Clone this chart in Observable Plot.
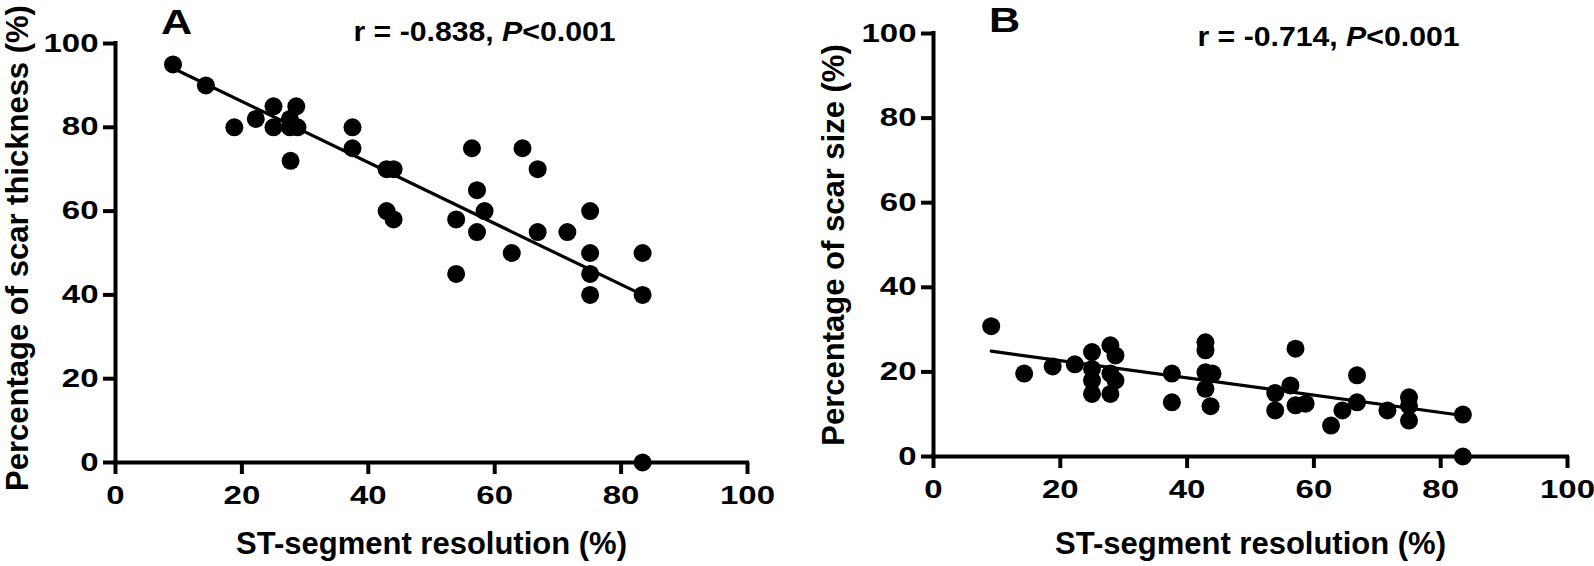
<!DOCTYPE html>
<html><head><meta charset="utf-8">
<script src="https://cdn.jsdelivr.net/npm/d3@7"></script>
<script src="https://cdn.jsdelivr.net/npm/@observablehq/plot@0.6"></script>
<style>
html,body{margin:0;padding:0;background:#fff;}
#wrap{display:flex;width:1594px;height:566px;overflow:hidden;}
#wrap svg{display:block;}
</style></head><body><div id="wrap"></div>
<script>
// ---- data ----
const xTicks = [0, 20, 40, 60, 80, 100];
const yTicks = [0, 20, 40, 60, 80, 100];
const xTitle = "ST-segment resolution (%)";

// Panel A: ST-segment resolution vs percentage of scar thickness
const stA = [9.1, 14.3, 18.8, 22.2, 25, 25, 28.6, 27.6, 27.6, 28.8, 27.7, 37.5, 37.5, 42.9, 44.0, 42.9, 44.0,
             56.4, 64.4, 66.8, 57.2, 58.4, 53.9, 57.2, 66.8, 71.5, 75.1, 62.7, 75.1, 83.4, 53.9, 75.1, 75.1, 83.4, 83.4];
const thickA = [95, 90, 80, 82, 85, 80, 85, 82, 80, 80, 72, 80, 75, 70, 70, 60, 58,
                75, 75, 70, 65, 60, 58, 55, 55, 55, 60, 50, 50, 50, 45, 45, 40, 40, 0];
const fitXA = [9.1, 83.4];
const fitYA = [94.1, 40.0];

// Panel B: ST-segment resolution vs percentage of scar size
const stB = [9.1, 14.3, 18.8, 22.3, 25, 25, 25, 25, 27.9, 28.7, 27.9, 28.7, 27.9, 37.6, 37.6,
             42.9, 42.9, 42.9, 44.0, 42.9, 43.7, 53.9, 53.9, 56.3, 57.1, 57.1, 58.7, 62.7, 64.5,
             66.8, 66.8, 71.6, 75.0, 75.0, 75.0, 83.5, 83.5];
const sizeB = [30.8, 19.6, 21.3, 21.8, 24.7, 20.7, 18.0, 14.8, 26.3, 23.9, 19.6, 18.0, 14.8, 19.6, 12.8,
               27.0, 25.1, 19.9, 19.6, 16.0, 11.9, 15.0, 10.9, 16.8, 25.5, 12.1, 12.5, 7.3, 10.9,
               19.2, 12.8, 10.9, 14.0, 12.0, 8.5, 9.9, 0];
const fitXB = [9.1, 83.5];
const fitYB = [24.9, 9.7];

const letters = ["A", "B"];
const stats = ["r = -0.838, P<0.001", "r = -0.714, P<0.001"];
const yTitles = ["Percentage of scar thickness (%)", "Percentage of scar size (%)"];

const FONT = '"Liberation Sans", Arial, Helvetica, sans-serif';

function makePanel(p) {
  const pts = p.x.map((x, i) => ({x, y: p.y[i]}));
  const fit = p.fitX.map((x, i) => ({x, y: p.fitY[i]}));
  return Plot.plot({
    width: 797, height: 566,
    marginLeft: p.ml, marginRight: p.mr, marginTop: p.mt, marginBottom: p.mb,
    style: {fontFamily: FONT, fontWeight: "bold", fontSize: "25px", color: "#000", background: "#fff", overflow: "visible"},
    x: {domain: [0, 100]},
    y: {domain: [0, 100]},
    marks: [
      Plot.axisX({ticks: xTicks, tickSize: 12, tickPadding: 12, strokeWidth: 4, label: null, fontSize: 25}),
      Plot.axisY({ticks: yTicks, tickSize: 12, tickPadding: 5, strokeWidth: 4, label: null, fontSize: 25}),
      Plot.ruleY([0], {x1: 0, x2: 100, strokeWidth: 4, strokeLinecap: "square"}),
      Plot.ruleX([0], {y1: 0, y2: 100, strokeWidth: 4, strokeLinecap: "square"}),
      Plot.line(fit, {x: "x", y: "y", stroke: "#000", strokeWidth: 3.2}),
      Plot.dot(pts, {x: "x", y: "y", r: 9, fill: "#000"}),
      Plot.text([p.letter], {text: d => d, frameAnchor: "top-left", dx: p.lx, dy: p.ly, fontSize: 36,
        textAnchor: "middle", lineAnchor: "middle"}),
      Plot.text([p.stat], {text: d => d, frameAnchor: "top-left", dx: p.sx, dy: p.sy, fontSize: 28,
        textAnchor: "middle", lineAnchor: "middle"}),
      Plot.text([xTitle], {text: d => d, frameAnchor: "bottom", dy: p.xty, fontSize: 31,
        textAnchor: "middle", lineAnchor: "middle"}),
      Plot.text([p.yTitle], {text: d => d, frameAnchor: "left", dx: p.ytx, dy: p.yty, rotate: -90, fontSize: 31,
        textAnchor: "middle", lineAnchor: "middle"})
    ]
  });
}

// find text elements by their content
function textsMatching(svg, strings) {
  return Array.from(svg.querySelectorAll("text")).filter(t => strings.includes(t.textContent));
}

function italicP(nodes) {
  const ns = "http://www.w3.org/2000/svg";
  nodes.forEach(t => {
    const s = t.textContent;
    const i = s.indexOf("P<");
    if (i < 0) return;
    while (t.firstChild) t.removeChild(t.firstChild);
    const a = document.createElementNS(ns, "tspan"); a.textContent = s.slice(0, i);
    const b = document.createElementNS(ns, "tspan"); b.textContent = "P";
    b.setAttribute("font-style", "italic");
    const c = document.createElementNS(ns, "tspan"); c.textContent = s.slice(i + 1);
    t.append(a, b, c);
  });
}

function stretch(svg, nodes, k) {
  nodes.forEach(t => {
    const m = t.getCTM(), pm = t.parentNode.getCTM();
    if (!m || !pm) return;
    let pt = svg.createSVGPoint();
    pt.x = t.hasAttribute("x") ? parseFloat(t.getAttribute("x")) || 0 : 0;
    pt.y = t.hasAttribute("y") ? parseFloat(t.getAttribute("y")) || 0 : 0;
    pt = pt.matrixTransform(m);
    const S = svg.createSVGMatrix().translate(pt.x, pt.y).scaleNonUniform(k, 1).translate(-pt.x, -pt.y);
    const L = pm.inverse().multiply(S).multiply(m);
    t.setAttribute("transform", `matrix(${L.a},${L.b},${L.c},${L.d},${L.e},${L.f})`);
  });
}

const wrap = document.getElementById("wrap");
const panels = [
  {x: stA, y: thickA, fitX: fitXA, fitY: fitYA, letter: letters[0], stat: stats[0], yTitle: yTitles[0],
   ml: 115, mr: 50, mt: 43, mb: 104, lx: 61, ly: -21, sx: 369, sy: -11, xty: 82, ytx: -97, yty: -5},
  {x: stB, y: sizeB, fitX: fitXB, fitY: fitYB, letter: letters[1], stat: stats[1], yTitle: yTitles[1],
   ml: 136, mr: 27, mt: 33, mb: 110, lx: 71, ly: -13, sx: 395, sy: 4, xty: 88, ytx: -99, yty: 0}
];
const tickStrings = xTicks.concat(yTicks).map(String);
for (const p of panels) {
  const svg = makePanel(p);
  wrap.appendChild(svg);
  const statNodes = textsMatching(svg, stats);
  const letterNodes = textsMatching(svg, letters);
  const tickNodes = textsMatching(svg, tickStrings);
  italicP(statNodes);
  stretch(svg, tickNodes, 1.32);
  stretch(svg, letterNodes, 1.2);
  stretch(svg, statNodes, 1.08);
}
</script>
</body></html>
